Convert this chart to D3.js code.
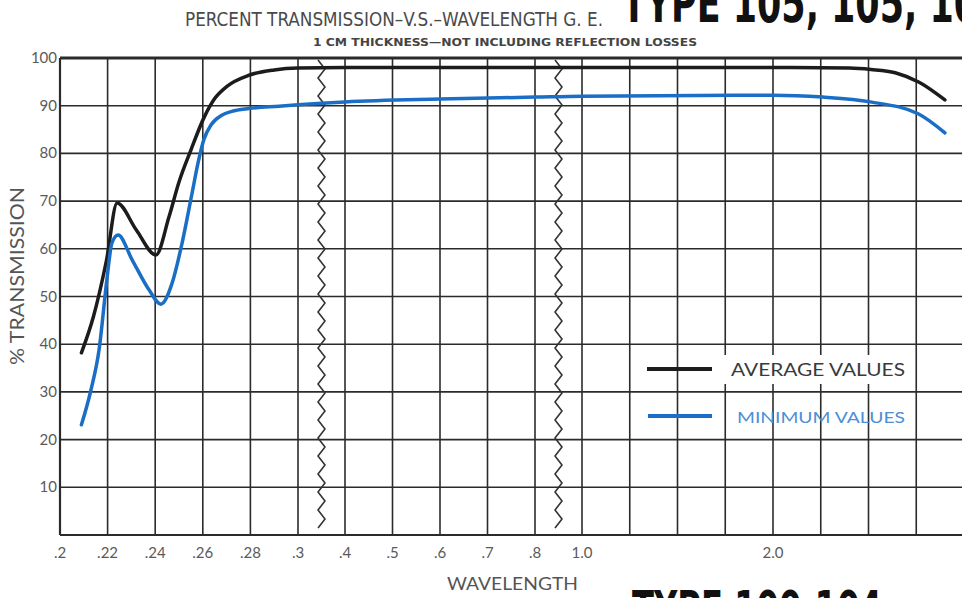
<!DOCTYPE html>
<html>
<head>
<meta charset="utf-8">
<script src="https://cdn.jsdelivr.net/npm/d3@7"></script>
<style>
  body { margin: 0; background: #fff; }
  svg { display: block; }
</style>
</head>
<body>
<div id="chart"></div>
<script>
// wavelength (microns) vs % transmission
var avgWave  = [.209, .214, .2195, .224, .232, .2403, .2458, .25, .255, .2605, .265, .27, .2795, .29, .3, .4, .6, 1.0, 2.0, 2.4, 2.513, 2.64, 2.765, 2.9];
var avgTrans = [38.2, 45.7, 57.5, 69.6, 64, 58.7, 66.7, 74, 80.7, 87.5, 91.5, 94, 96.4, 97.5, 97.9, 98, 98, 98, 98, 97.9, 97.6, 96.9, 94.9, 91.2];

var minWave  = [.209, .213, .2164, .2198, .2218, .2244, .2303, .2374, .2424, .2471, .2513, .2555, .258, .2605, .2635, .268, .2722, .2794, .292, .3, .4, .6, .8, 1.0, 2.0, 2.26, 2.51, 2.76, 2.9];
var minTrans = [23.1, 30.4, 38.8, 54, 61.2, 62.9, 57.7, 51.4, 48.4, 52.8, 61.2, 71.7, 78, 83, 86, 88, 88.8, 89.4, 89.9, 90.2, 90.8, 91.4, 91.8, 92, 92.2, 91.8, 90.8, 88.3, 84.3];

var gridWaves  = [.2, .22, .24, .26, .28, .3, .4, .5, .6, .7, .8, 1.0, 1.25, 1.5, 1.75, 2.0, 2.25, 2.5, 2.75, 3.0];
var tickWaves  = [.2, .22, .24, .26, .28, .3, .4, .5, .6, .7, .8, 1.0, 2.0];
var tickLabels = [".2", ".22", ".24", ".26", ".28", ".3", ".4", ".5", ".6", ".7", ".8", "1.0", "2.0"];
var yTicks     = [10, 20, 30, 40, 50, 60, 70, 80, 90, 100];
var breakWaves = [.35, .9];

var width = 962, height = 598;
var plotLeft = 60, plotRight = 964, plotTop = 58, plotBottom = 535;

var svg = d3.select("#chart").append("svg")
    .attr("width", width)
    .attr("height", height);

// broken axis: three linear pieces glued together
var x = d3.scaleLinear()
    .domain([.2, .3, .4, .8, 1.0, 3.0])
    .range([plotLeft, 298, 345, 535, 582, plotRight]);

var y = d3.scaleLinear()
    .domain([0, 100])
    .range([plotBottom, plotTop]);

// titles
svg.append("text")
    .attr("x", 185).attr("y", 26)
    .attr("textLength", 418)
    .attr("lengthAdjust", "spacingAndGlyphs")
    .style("font-family", "'DejaVu Sans Condensed', 'DejaVu Sans'")
    .style("font-size", "20px")
    .style("fill", "#4a4a4a")
    .text("PERCENT TRANSMISSION–V.S.–WAVELENGTH G. E.");

svg.append("text")
    .attr("x", 622).attr("y", 22)
    .attr("textLength", 356)
    .attr("lengthAdjust", "spacingAndGlyphs")
    .style("font-family", "'DejaVu Sans Condensed', 'DejaVu Sans'")
    .style("font-weight", "bold")
    .style("font-size", "54px")
    .style("fill", "#111")
    .text("TYPE 105, 105, 10");

svg.append("text")
    .attr("x", 313).attr("y", 46)
    .attr("textLength", 384)
    .attr("lengthAdjust", "spacingAndGlyphs")
    .style("font-family", "'DejaVu Sans Condensed', 'DejaVu Sans'")
    .style("font-weight", "bold")
    .style("font-size", "10px")
    .style("fill", "#444")
    .text("1 CM THICKNESS—NOT INCLUDING REFLECTION LOSSES");

// grid
svg.selectAll(".hgrid")
    .data(yTicks)
    .enter().append("line")
      .attr("class", "hgrid")
      .attr("x1", plotLeft).attr("x2", plotRight)
      .attr("y1", function(d) { return y(d); })
      .attr("y2", function(d) { return y(d); })
      .style("stroke", "#2b2b2b")
      .style("stroke-width", function(d) { return d == 100 ? 3 : 1.6; });

svg.selectAll(".vgrid")
    .data(gridWaves)
    .enter().append("line")
      .attr("class", "vgrid")
      .attr("x1", function(d) { return x(d); })
      .attr("x2", function(d) { return x(d); })
      .attr("y1", plotTop).attr("y2", plotBottom)
      .style("stroke", "#2b2b2b")
      .style("stroke-width", function(d) { return d == .2 ? 2.2 : 1.6; });

svg.append("line")
    .attr("x1", plotLeft).attr("x2", plotRight)
    .attr("y1", plotBottom).attr("y2", plotBottom)
    .style("stroke", "#2b2b2b")
    .style("stroke-width", 2.2);

// wavy break marks
var zig = d3.line().curve(d3.curveLinear);
breakWaves.forEach(function(b) {
  var cx = x(b);
  var pts = d3.range(plotTop + 2, plotBottom - 4, 9).map(function(py, i) {
    return [cx + (i % 2 ? 3.5 : -3.5), py];
  });
  svg.append("path")
      .attr("d", zig(pts))
      .style("fill", "none")
      .style("stroke", "#333")
      .style("stroke-width", 1.6)
      .style("stroke-linejoin", "round");
});

// axis labels
svg.selectAll(".ylab")
    .data(yTicks)
    .enter().append("text")
      .attr("x", 57)
      .attr("y", function(d) { return y(d) + 5; })
      .style("text-anchor", "end")
      .style("font-family", "Lato, 'DejaVu Sans'")
      .style("font-size", "15px")
      .style("fill", "#5a5a5a")
      .text(function(d) { return d; });

svg.selectAll(".xlab")
    .data(tickWaves)
    .enter().append("text")
      .attr("x", function(d) { return x(d); })
      .attr("y", 558)
      .style("text-anchor", "middle")
      .style("font-family", "Lato, 'DejaVu Sans'")
      .style("font-size", "15px")
      .style("fill", "#5a5a5a")
      .text(function(d, i) { return tickLabels[i]; });

svg.append("text")
    .attr("transform", "translate(24,276) rotate(-90)")
    .attr("textLength", 178)
    .attr("lengthAdjust", "spacingAndGlyphs")
    .style("text-anchor", "middle")
    .style("font-family", "Lato, 'DejaVu Sans'")
    .style("font-size", "20px")
    .style("fill", "#555")
    .text("% TRANSMISSION");

svg.append("text")
    .attr("x", 447).attr("y", 590)
    .attr("textLength", 131)
    .attr("lengthAdjust", "spacingAndGlyphs")
    .style("font-family", "Lato, 'DejaVu Sans'")
    .style("font-size", "18px")
    .style("fill", "#555")
    .text("WAVELENGTH");

svg.append("text")
    .attr("x", 632).attr("y", 626)
    .attr("textLength", 250)
    .attr("lengthAdjust", "spacingAndGlyphs")
    .style("font-family", "'DejaVu Sans Condensed', 'DejaVu Sans'")
    .style("font-weight", "bold")
    .style("font-size", "50px")
    .style("fill", "#111")
    .text("TYPE 100-104");

// curves
var line = d3.line()
    .x(function(d) { return x(d[0]); })
    .y(function(d) { return y(d[1]); })
    .curve(d3.curveMonotoneX);

svg.append("path")
    .datum(d3.zip(avgWave, avgTrans))
    .attr("d", line)
    .style("fill", "none")
    .style("stroke", "#1c1c1c")
    .style("stroke-width", 3.5)
    .style("stroke-linecap", "round");

svg.append("path")
    .datum(d3.zip(minWave, minTrans))
    .attr("d", line)
    .style("fill", "none")
    .style("stroke", "#1a6ec6")
    .style("stroke-width", 3.5)
    .style("stroke-linecap", "round");

// legend
svg.append("rect")
    .attr("x", 722).attr("y", 355)
    .attr("width", 190).attr("height", 29)
    .style("fill", "#fff");

svg.append("line")
    .attr("x1", 647).attr("x2", 712)
    .attr("y1", 369).attr("y2", 369)
    .style("stroke", "#1c1c1c")
    .style("stroke-width", 4);

svg.append("text")
    .attr("x", 731).attr("y", 376)
    .attr("textLength", 174)
    .attr("lengthAdjust", "spacingAndGlyphs")
    .style("font-family", "Lato, 'DejaVu Sans'")
    .style("font-size", "18px")
    .style("fill", "#3a3a3a")
    .text("AVERAGE VALUES");

svg.append("line")
    .attr("x1", 648).attr("x2", 712)
    .attr("y1", 416).attr("y2", 416)
    .style("stroke", "#1a6ec6")
    .style("stroke-width", 4);

svg.append("text")
    .attr("x", 737).attr("y", 423)
    .attr("textLength", 168)
    .attr("lengthAdjust", "spacingAndGlyphs")
    .style("font-family", "Lato, 'DejaVu Sans'")
    .style("font-size", "16px")
    .style("fill", "#4b8fd6")
    .text("MINIMUM VALUES");
</script>
</body>
</html>
